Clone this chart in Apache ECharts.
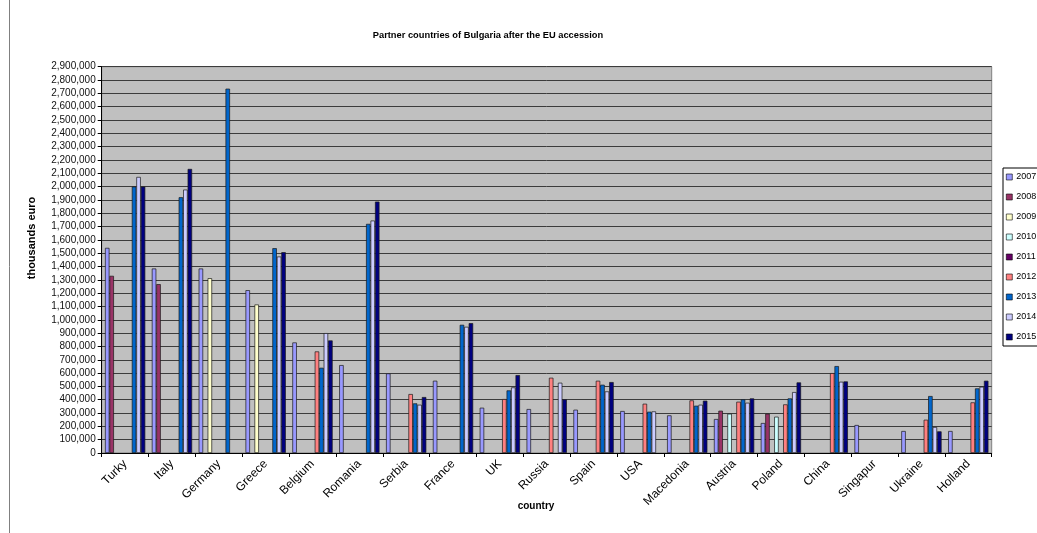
<!DOCTYPE html>
<html>
<head>
<meta charset="utf-8">
<script src="https://cdn.jsdelivr.net/npm/echarts@6/dist/echarts.min.js"></script>
<style>
html,body{margin:0;padding:0;background:#fff;}
#c{width:1037px;height:533px;}
</style>
</head>
<body>
<div id="c"></div>
<script>
const countries = ['Turky','Italy','Germany','Greece','Belgium','Romania','Serbia','France','UK','Russia','Spain','USA','Macedonia','Austria','Poland','China','Singapur','Ukraine','Holland'];
const years = ['2007','2008','2009','2010','2011','2012','2013','2014','2015'];
const yTicks = {min: 0, max: 2900000, interval: 100000};

const v2007 = [1540000,1385000,1385000,1222500,830000,660000,597500,542500,340000,330000,325000,315000,282500,255000,225000,null,210000,165000,165000];
const v2008 = [1330000,1267500,null,null,null,null,null,null,null,null,null,null,null,317500,295000,null,null,null,null];
const v2009 = [null,null,1312500,1115000,null,null,null,null,null,null,null,null,null,null,null,null,null,null,null];
const v2010 = [null,null,null,null,null,null,null,null,null,null,null,null,null,295000,272500,null,null,null,null];
const v2011 = [null,null,null,null,null,null,null,null,null,null,null,null,null,null,null,null,null,null,null];
const v2012 = [null,null,null,null,762500,null,442500,null,405000,565000,542500,370000,395000,385000,365000,600000,null,250000,380000];
const v2013 = [2000000,1920000,2735000,1537500,640000,1720000,372500,962500,470000,null,512500,310000,355000,402500,410000,652500,null,427500,485000];
const v2014 = [2072500,1977500,null,1475000,900000,1745000,362500,947500,492500,527500,462500,312500,362500,377500,457500,535000,null,195000,497500];
const v2015 = [2000000,2132500,null,1507500,845000,1887500,420000,975000,585000,402500,532500,null,392500,410000,530000,537500,null,162500,542500];

const seriesValues = [v2007,v2008,v2009,v2010,v2011,v2012,v2013,v2014,v2015];
const colors = ['#9999FF','#993366','#FFFFCC','#CCFFFF','#660066','#FF8080','#0066CC','#CCCCFF','#000080'];

const sans = "'Liberation Sans',Arial,sans-serif";

const chart = echarts.init(document.getElementById('c'), null, {renderer: 'canvas'});
chart.setOption({
  animation: false,
  backgroundColor: '#ffffff',
  color: colors,
  grid: {
    left: 101.7, right: 45.3, top: 66.7, bottom: 80,
    show: true, backgroundColor: '#C0C0C0', borderColor: '#808080', borderWidth: 1
  },
  legend: {
    orient: 'vertical',
    left: 1003, top: 168,
    data: years,
    itemWidth: 6, itemHeight: 6, itemGap: 10,
    padding: [4, 30, 4, 3],
    borderColor: '#000', borderWidth: 1,
    icon: 'rect',
    itemStyle: {borderColor: '#000', borderWidth: 0.6},
    textStyle: {fontSize: 9, lineHeight: 10, fontFamily: sans, color: '#000', padding: [0,0,0,-1]}
  },
  xAxis: {
    type: 'category',
    data: countries,
    boundaryGap: true,
    axisLine: {lineStyle: {color: '#000', width: 1}},
    axisTick: {show: true, alignWithLabel: false, length: 4, lineStyle: {color: '#000'}},
    axisLabel: {rotate: 45, fontSize: 12, fontFamily: sans, color: '#000', margin: 9, interval: 0},
    splitLine: {show: false}
  },
  yAxis: {
    type: 'value',
    min: yTicks.min, max: yTicks.max, interval: yTicks.interval,
    axisLine: {show: true, lineStyle: {color: '#000', width: 1}},
    axisTick: {show: true, length: 4, lineStyle: {color: '#000'}},
    axisLabel: {
      fontSize: 10, fontFamily: sans, color: '#111', margin: 6,
      formatter: function (v) { return v.toLocaleString('en-US'); }
    },
    splitLine: {show: true, lineStyle: {color: '#3c3c3c', width: 1}}
  },
  graphic: [
    {type: 'text', style: {text: 'Partner countries of Bulgaria after the EU accession', x: 488, y: 35, textAlign: 'center', textVerticalAlign: 'middle', font: "bold 9.3px " + sans, fill: '#000'}},
    {type: 'text', x: 32, y: 238, rotation: Math.PI / 2, style: {text: 'thousands euro', x: 0, y: 0, textAlign: 'center', textVerticalAlign: 'middle', font: "bold 11px " + sans, fill: '#000'}},
    {type: 'text', style: {text: 'country', x: 536, y: 506, textAlign: 'center', textVerticalAlign: 'middle', font: "bold 10px " + sans, fill: '#000'}},
    {type: 'line', shape: {x1: 9.5, y1: 0, x2: 9.5, y2: 533}, style: {stroke: '#808080', lineWidth: 1}}
  ],
  series: years.map(function (y, i) {
    return {
      name: y,
      type: 'bar',
      data: seriesValues[i],
      barGap: '0%',
      barCategoryGap: '14%',
      itemStyle: {color: colors[i], borderColor: '#1a1a1a', borderWidth: 0.7}
    };
  })
});
</script>
</body>
</html>
